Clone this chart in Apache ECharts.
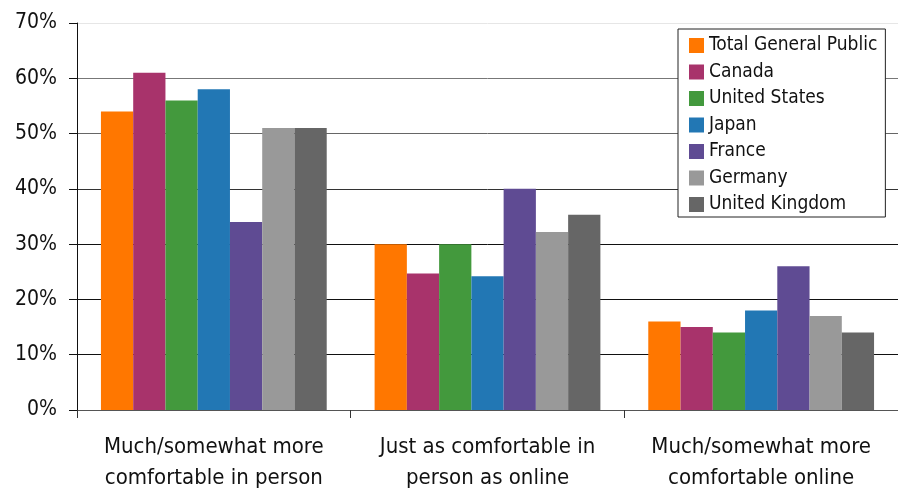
<!DOCTYPE html>
<html><head><meta charset="utf-8">
<script src="https://cdn.jsdelivr.net/npm/echarts@6/dist/echarts.min.js"></script>
<style>html,body{margin:0;padding:0;background:#fff}#c{width:898px;height:494px}</style>
</head><body><div id="c"></div>
<script>
const categories = ["Much/somewhat more\ncomfortable in person", "Just as comfortable in\nperson as online", "Much/somewhat more\ncomfortable online"];
const seriesNames = ["Total General Public", "Canada", "United States", "Japan", "France", "Germany", "United Kingdom"];
const totalGeneralPublic = [54, 30, 16];
const canada = [61, 24.7, 15];
const unitedStates = [56, 30, 14];
const japan = [58, 24.2, 18];
const france = [34, 40, 26];
const germany = [51, 32.2, 17];
const unitedKingdom = [51, 35.3, 14];
const yTicks = [0, 10, 20, 30, 40, 50, 60, 70];

const seriesValues = [totalGeneralPublic, canada, unitedStates, japan, france, germany, unitedKingdom];
const colors = ["#FF7700", "#A8336B", "#43993D", "#2277B4", "#5F4B93", "#999999", "#666666"];
const FONT = "'DejaVu Sans Condensed', 'Open Sans', sans-serif";

const chart = echarts.init(document.getElementById('c'));
chart.setOption({
  animation: false,
  color: colors,
  textStyle: { fontFamily: FONT, color: '#111' },
  grid: { left: 77, right: 0, top: 23, bottom: 80, containLabel: false },
  legend: {
    orient: 'vertical',
    left: 678, top: 29,
    itemWidth: 15, itemHeight: 15, itemGap: 7.5,
    icon: 'rect',
    padding: [7, 8, 3, 11],
    borderColor: '#222', borderWidth: 1,
    backgroundColor: '#fff',
    textStyle: { fontFamily: FONT, fontSize: 19, color: '#111' },
    data: seriesNames
  },
  xAxis: {
    type: 'category',
    data: categories,
    axisLine: { lineStyle: { color: '#555', width: 1 } },
    axisTick: { show: true, length: 8, lineStyle: { color: '#333' } },
    axisLabel: { fontFamily: FONT, fontSize: 22, lineHeight: 31, color: '#111', margin: 22, interval: 0 }
  },
  yAxis: {
    type: 'value',
    min: yTicks[0], max: yTicks[yTicks.length - 1], interval: 10,
    axisLine: { show: true, lineStyle: { color: '#111', width: 1 } },
    axisTick: { show: true, length: 8, lineStyle: { color: '#111' } },
    axisLabel: { formatter: '{value}%', fontFamily: FONT, fontSize: 21, color: '#111', margin: 20 },
    splitLine: { lineStyle: { color: ['#111', '#111', '#111', '#111', '#333', '#666', '#777', '#e6e6e6'], width: 1 } }
  },
  series: seriesValues.map((vals, i) => ({
    name: seriesNames[i],
    type: 'bar',
    data: vals,
    barGap: '0%',
    barCategoryGap: '17.5%'
  }))
});
</script></body></html>
